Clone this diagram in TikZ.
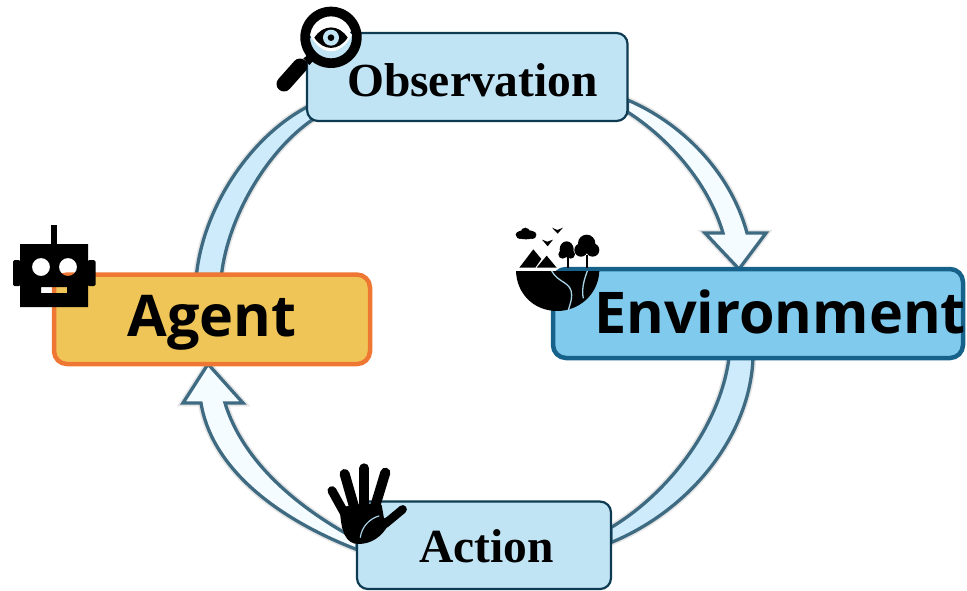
\documentclass[tikz,border=0pt]{standalone}
\usepackage{fontspec}
\setmainfont{Liberation Serif}
\newfontfamily\labsans{Open Sans}
\usetikzlibrary{backgrounds,calc}
\definecolor{agfill}{HTML}{F0C557}
\definecolor{agline}{HTML}{EE7733}
\definecolor{enfill}{HTML}{80CAEE}
\definecolor{enline}{HTML}{17628A}
\definecolor{obfill}{HTML}{C1E4F5}
\definecolor{obline}{HTML}{0E3B52}
\definecolor{bandline}{HTML}{3E6B82}
\definecolor{bandfill}{HTML}{CDEBFA}
\definecolor{arrowfill}{HTML}{F5FCFF}
\definecolor{crease}{HTML}{A8D2E6}
\tikzset{
  boxbase/.style={rounded corners=13pt,inner sep=0pt,outer sep=0pt},
  agentbox/.style={boxbase,draw=agline,fill=agfill,line width=4.5pt,minimum width=316pt,minimum height=89.5pt},
  envbox/.style={boxbase,draw=enline,fill=enfill,line width=4.5pt,minimum width=410pt,minimum height=89pt},
  stepbox/.style={boxbase,draw=obline,fill=obfill,line width=2.2pt,rounded corners=11pt},
  sanslab/.style={anchor=base,inner sep=0pt,font=\labsans\bfseries\fontsize{57.5}{60}\selectfont},
  seriflab/.style={anchor=base,inner sep=0pt,font=\bfseries\fontsize{47.5}{52}\selectfont},
  softshade/.style={preaction={draw=black,draw opacity=.10,line width=6.5pt}},
  band/.style={softshade,draw=bandline,fill=bandfill,line width=3.3pt,line join=miter},
  bandarrow/.style={softshade,draw=bandline,fill=arrowfill,line width=3.3pt,line join=miter},
}
\begin{document}
\begin{tikzpicture}[x=1pt,y=-1pt]
\useasboundingbox (0,0) rectangle (967,590);
% boxes
\node[agentbox] (agent) at (212,319.3) {};
\node[envbox] (env) at (758,313.5) {};
\node[stepbox,minimum width=320.5pt,minimum height=88pt] (obs) at (467.3,77) {};
\node[stepbox,minimum width=254pt,minimum height=87.5pt] (act) at (484,545.3) {};
% labels
\node[sanslab] (agentT) at (212,336) {Agent};
\node[sanslab] (envT) at (780,333) {Environment};
\node[seriflab] (obsT) at (472.5,96) {Observation};
\node[seriflab] (actT) at (486.5,562) {Action};
% connector ends, tied to the boxes
\coordinate (a1) at ([xshift=142.5pt]agent.north west);
\coordinate (a2) at ([xshift=167.5pt]agent.north west);
\coordinate (o1) at ([yshift=-74pt]obs.north west);
\coordinate (o2) at ([xshift=5pt,yshift=-87pt]obs.north west);
\coordinate (o3) at ([yshift=-67pt]obs.north east);
\coordinate (o4) at ([yshift=-79pt]obs.north east);
\coordinate (e3) at ([xshift=176pt]env.south west);
\coordinate (e4) at ([xshift=200pt]env.south west);
\coordinate (c1) at ([yshift=-41pt]act.north east);
\coordinate (c2) at ([yshift=-26pt]act.north east);
\coordinate (c3) at ([yshift=-48pt]act.north west);
\coordinate (c4) at ([yshift=-38pt]act.north west);
\coordinate (tipE) at ([xshift=186pt]env.north west);
\coordinate (tipA) at ([xshift=154pt]agent.south west);
\begin{scope}[on background layer]
  % Agent -> Observation (band)
  \draw[band] (a1) .. controls +(7,-67) and (250,137) .. (o1)
     -- (o2) .. controls (266,152) and (228,218) .. (a2) -- cycle;
  % Observation -> Environment
  \draw[bandarrow] (o3) .. controls +(52,22) and (730,170) .. (747,233)
     -- (766,233) -- (tipE) -- (705,233) -- (723,233)
     .. controls (708,182) and (668,138) .. (o4) -- cycle;
  % Environment -> Action (band)
  \draw[band] (e4) .. controls +(-3,78) and (690,510) .. (c1)
     -- (c2) .. controls (670,492) and (720,425) .. (e3) -- cycle;
  % Action -> Agent
  \draw[bandarrow] (c4) .. controls (298,508) and (243,462) .. (225,403)
     -- (243,403) -- (tipA) -- (183,403) -- (201,403)
     .. controls (212,470) and (280,520) .. (c3) -- cycle;
\end{scope}
% magnifier with eye
\begin{scope}[shift={(260,0)},x=.3333pt,y=-.3333pt]
  \fill[even odd rule,black] (213,112) circle (92) (213,112) circle (63);
  \fill[black] (152,160) -- (166,176) -- (148,195) -- (130,175) -- cycle;
  \draw[black,line width=15pt,line cap=round] (120,198) -- (72,252);
  \fill[white] (150,105) .. controls (185,55) and (240,55) .. (276,105) .. controls (240,170) and (185,170) .. cycle;
  \fill[black] (163,113) .. controls (190,72) and (236,72) .. (263,113) .. controls (236,154) and (190,154) .. cycle;
  \fill[obfill] (213,113) circle (24);
  \fill[black] (213,113) circle (10);
\end{scope}
% robot
\fill[even odd rule,black]
   (20,244) rectangle (88,307)
   (41,267) circle (9) (68,267) circle (9)
   (41,287) rectangle (67,293);
\fill[black,rounded corners=1.5pt] (13,260) rectangle (20.5,286);
\fill[black,rounded corners=1.5pt] (87.5,260) rectangle (95.5,286);
\fill[black] (51,225) rectangle (57,244.5);
% island
\begin{scope}[shift={(500,215)},x=.3333pt,y=-.3333pt]
  \fill[black] (48,168) -- (298,168) .. controls (295,240) and (235,288) .. (172,288) .. controls (100,288) and (50,235) .. (48,168) -- cycle;
  \draw[crease,line width=1.3pt] (155,168) .. controls (175,205) and (215,200) .. (215,240) .. controls (215,260) and (208,272) .. (205,286);
  \draw[crease,line width=1.3pt] (262,168) .. controls (250,200) and (245,225) .. (250,250);
  \fill[black] (58,158) -- (100,103) -- (124,132) -- (106,158) -- cycle;
  \fill[black] (110,158) -- (140,122) -- (170,158) -- cycle;
  % trees
  \fill[black] (200,103) ellipse (21 and 24);
  \fill[black] (188,118) circle (13) (212,118) circle (13);
  \fill[black] (260,85) circle (26) (243,105) circle (20) (278,105) circle (20);
  \draw[black,line width=2.2pt] (203,125) -- (203,158) (261,120) -- (261,158);
  % cloud
  \fill[black] (78,59) ellipse (31 and 14) (76,52) circle (14) (60,60) circle (12) (97,60) circle (12);
  % birds
  \fill[black] (156,38) -- (172,45) -- (189,38) -- (173,56) -- cycle;
  \fill[black] (126,74) -- (142,80) -- (159,74) -- (143,94) -- cycle;
\end{scope}
% hand
\begin{scope}[shift={(310,450)},x=.3333pt,y=-.3333pt]
  \begin{scope}[black,line cap=round]
    \draw[line width=9pt] (112,205) -- (66,122);
    \draw[line width=10pt] (135,180) -- (104,72);
    \draw[line width=10pt] (163,170) -- (163,55);
    \draw[line width=10pt] (195,170) -- (226,68);
    \draw[line width=8.5pt] (225,222) -- (278,178);
  \end{scope}
  \fill[black] (90,175) .. controls (110,165) and (190,155) .. (215,165)
     -- (222,205) -- (255,195) -- (235,225) .. controls (215,260) and (185,282) .. (145,282)
     .. controls (110,282) and (92,250) .. (90,175) -- cycle;
  \draw[crease,line width=1.2pt,line cap=round] (151,262) .. controls (155,230) and (180,205) .. (207,198);
\end{scope}
\end{tikzpicture}
\end{document}
